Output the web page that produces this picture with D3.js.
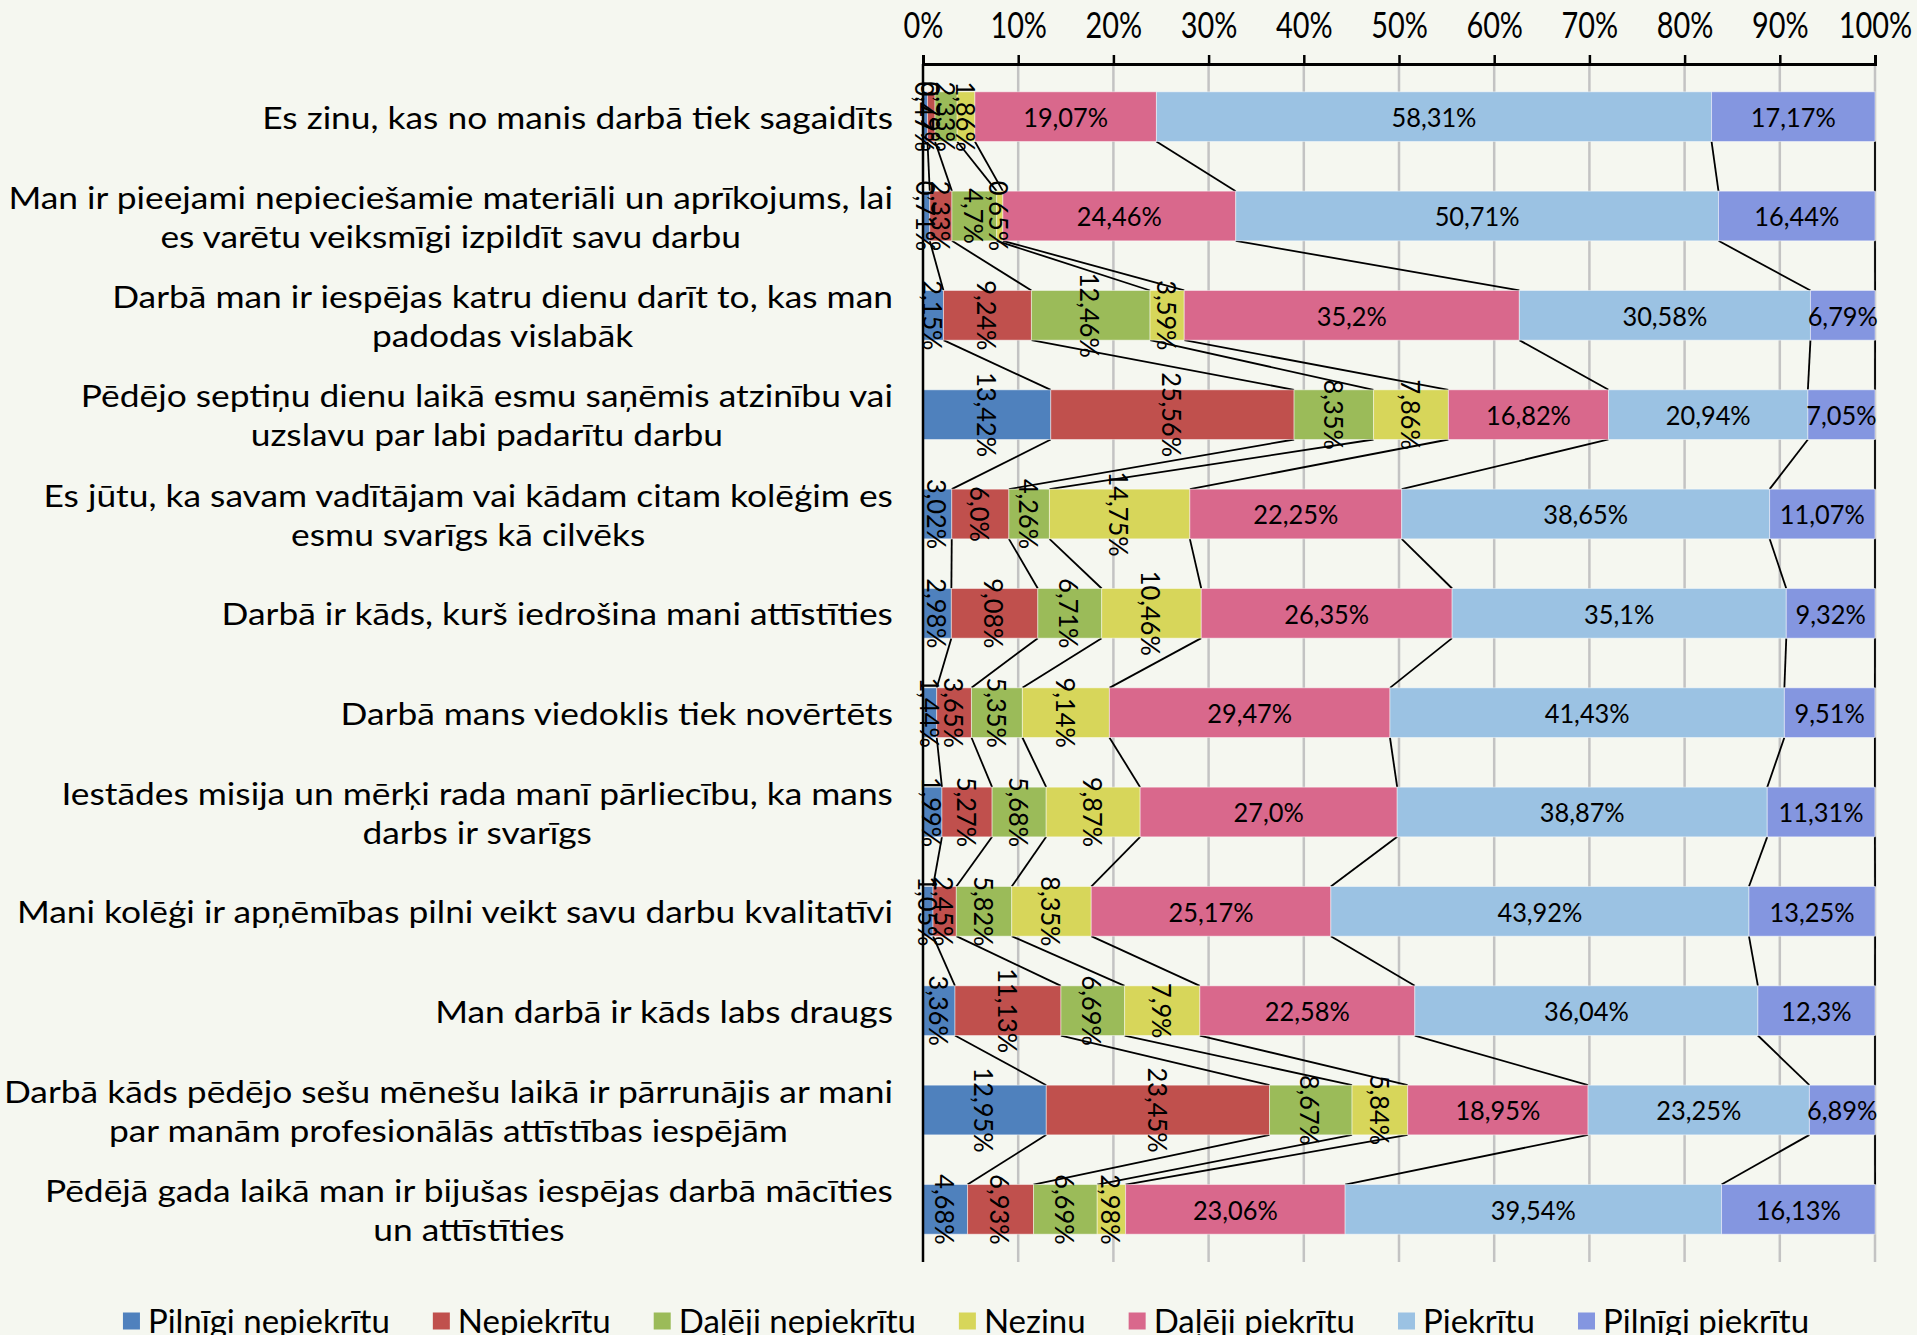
<!DOCTYPE html>
<html lang="lv">
<head>
<meta charset="UTF-8">
<title>Darba vide</title>
<script src="https://d3js.org/d3.v7.min.js"></script>
<style>
  body { margin: 0; background: #f5f7f0; overflow: hidden; }
  svg { display: block; }
  .cat { font-family: Lato, sans-serif; font-size: 31px; fill: #000; }
  .num { font-family: Lato, sans-serif; font-size: 27px; fill: #000; }
  .tick text { font-family: Lato, sans-serif; font-size: 37px; fill: #000; }
  .legend text { font-family: Lato, sans-serif; font-size: 33px; fill: #000; }
</style>
</head>
<body>
<svg id="chart" width="1917" height="1335"></svg>
<script>
// categories (survey statements), "\n" marks a line break
const categories = [
  "Es zinu, kas no manis darbā tiek sagaidīts",
  "Man ir pieejami nepieciešamie materiāli un aprīkojums, lai\nes varētu veiksmīgi izpildīt savu darbu",
  "Darbā man ir iespējas katru dienu darīt to, kas man\npadodas vislabāk",
  "Pēdējo septiņu dienu laikā esmu saņēmis atzinību vai\nuzslavu par labi padarītu darbu",
  "Es jūtu, ka savam vadītājam vai kādam citam kolēģim es\nesmu svarīgs kā cilvēks",
  "Darbā ir kāds, kurš iedrošina mani attīstīties",
  "Darbā mans viedoklis tiek novērtēts",
  "Iestādes misija un mērķi rada manī pārliecību, ka mans\ndarbs ir svarīgs",
  "Mani kolēģi ir apņēmības pilni veikt savu darbu kvalitatīvi",
  "Man darbā ir kāds labs draugs",
  "Darbā kāds pēdējo sešu mēnešu laikā ir pārrunājis ar mani\npar manām profesionālās attīstības iespējām",
  "Pēdējā gada laikā man ir bijušas iespējas darbā mācīties\nun attīstīties"
];

const seriesNames = ["Pilnīgi nepiekrītu", "Nepiekrītu", "Daļēji nepiekrītu", "Nezinu",
  "Daļēji piekrītu", "Piekrītu", "Pilnīgi piekrītu"];
const seriesColors = ["#4f81bd", "#c0504d", "#9bbb59", "#d7d65a", "#d9688c", "#9bc2e3", "#8496e0"];

// percentages per series, one value per category
const pilnigiNepiekritu = [0.47, 0.71, 2.15, 13.42, 3.02, 2.98, 1.44, 1.99, 1.05, 3.36, 12.95, 4.68];
const nepiekritu        = [0.79, 2.33, 9.24, 25.56, 6.0, 9.08, 3.65, 5.27, 2.45, 11.13, 23.45, 6.93];
const dalejiNepiekritu  = [2.33, 4.7, 12.46, 8.35, 4.26, 6.71, 5.35, 5.68, 5.82, 6.69, 8.67, 6.69];
const nezinu            = [1.86, 0.65, 3.59, 7.86, 14.75, 10.46, 9.14, 9.87, 8.35, 7.9, 5.84, 2.98];
const dalejiPiekritu    = [19.07, 24.46, 35.2, 16.82, 22.25, 26.35, 29.47, 27.0, 25.17, 22.58, 18.95, 23.06];
const piekritu          = [58.31, 50.71, 30.58, 20.94, 38.65, 35.1, 41.43, 38.87, 43.92, 36.04, 23.25, 39.54];
const pilnigiPiekritu   = [17.17, 16.44, 6.79, 7.05, 11.07, 9.32, 9.51, 11.31, 13.25, 12.3, 6.89, 16.13];

const tickValues = [0, 10, 20, 30, 40, 50, 60, 70, 80, 90, 100];

const seriesValues = [pilnigiNepiekritu, nepiekritu, dalejiNepiekritu, nezinu,
  dalejiPiekritu, piekritu, pilnigiPiekritu];

// table for d3.stack
const table = categories.map((c, i) => {
  const row = { cat: c };
  seriesNames.forEach((s, k) => row[s] = seriesValues[k][i]);
  return row;
});

const svg = d3.select("#chart");
const plotLeft = 923, plotRight = 1875, plotTop = 64, plotBottom = 1262;

const x = d3.scaleLinear().domain([0, 100]).range([plotLeft, plotRight]);
const y = d3.scaleBand().domain(categories).range([plotTop, plotBottom])
  .paddingInner(0.5).paddingOuter(0.28);

const stacked = d3.stack().keys(seriesNames)(table);

function fmt(v) {
  const s = Math.abs(v * 10 - Math.round(v * 10)) < 1e-9 ? v.toFixed(1) : v.toFixed(2);
  return s.replace(".", ",") + "%";
}

// gridlines
svg.append("g")
  .selectAll("line")
  .data(tickValues.filter(d => d > 0))
  .join("line")
  .attr("x1", d => x(d)).attr("x2", d => x(d))
  .attr("y1", plotTop).attr("y2", plotBottom)
  .attr("stroke", "#c3c3c3").attr("stroke-width", 2.5);

// series lines between neighbouring bars
const bw = y.bandwidth();
const seriesLines = [];
stacked.forEach(layer => {
  for (let i = 0; i < categories.length - 1; i++) {
    seriesLines.push({
      x1: x(layer[i][1]), y1: y(categories[i]) + bw,
      x2: x(layer[i + 1][1]), y2: y(categories[i + 1])
    });
  }
});
svg.append("g")
  .selectAll("line")
  .data(seriesLines)
  .join("line")
  .attr("x1", d => d.x1).attr("y1", d => d.y1)
  .attr("x2", d => d.x2).attr("y2", d => d.y2)
  .attr("stroke", "#000").attr("stroke-width", 1.8);

// bars
svg.append("g")
  .selectAll("g")
  .data(stacked)
  .join("g")
  .attr("fill", (d, k) => seriesColors[k])
  .selectAll("rect")
  .data(d => d)
  .join("rect")
  .attr("x", d => x(d[0]))
  .attr("y", d => y(d.data.cat))
  .attr("width", d => x(d[1]) - x(d[0]))
  .attr("height", bw)
  .attr("stroke", "rgba(255,255,255,0.45)")
  .attr("stroke-width", 1);

// data labels: first four series rotated, rest horizontal
const numSquash = 0.94;
stacked.forEach((layer, k) => {
  svg.append("g")
    .selectAll("text")
    .data(layer)
    .join("text")
    .attr("class", "num")
    .attr("text-anchor", "middle")
    .attr("dominant-baseline", "central")
    .attr("transform", d => {
      const cx = (x(d[0]) + x(d[1])) / 2;
      const cy = y(d.data.cat) + bw / 2;
      return k < 4
        ? `translate(${cx},${cy}) rotate(90) scale(${numSquash},1)`
        : `translate(${cx},${cy}) scale(${numSquash},1)`;
    })
    .text(d => fmt(d[1] - d[0]));
});

// vertical axis line at 0%
svg.append("line")
  .attr("x1", plotLeft).attr("x2", plotLeft)
  .attr("y1", plotTop).attr("y2", plotBottom)
  .attr("stroke", "#000").attr("stroke-width", 2.5);

// top axis
const axis = svg.append("g")
  .attr("transform", `translate(0,${plotTop})`)
  .call(d3.axisTop(x).tickValues(tickValues).tickFormat(d => d + "%").tickSize(9).tickPadding(17));
axis.select(".domain").attr("stroke", "#000").attr("stroke-width", 3);
axis.selectAll(".tick line").attr("stroke", "#000").attr("stroke-width", 2.5);
axis.selectAll(".tick text").attr("transform", "scale(0.78,1)");

// category labels: block right-aligned, lines centred within block
const catLabelRight = 893, lineGap = 39, catStretch = 1.14;
categories.forEach(c => {
  const lines = c.split("\n");
  const g = svg.append("g");
  const cy = y(c) + bw / 2;
  const texts = lines.map(ln => g.append("text")
    .attr("class", "cat")
    .attr("text-anchor", "middle")
    .attr("dominant-baseline", "central")
    .text(ln));
  const maxW = d3.max(texts, t => t.node().getComputedTextLength()) * catStretch;
  texts.forEach((t, j) => {
    const ly = cy + (j - (lines.length - 1) / 2) * lineGap;
    t.attr("transform", `translate(${catLabelRight - maxW / 2},${ly}) scale(${catStretch},1)`);
  });
});

// legend
const legend = svg.append("g").attr("class", "legend");
const legendY = 1321, sq = 17, sqGap = 8, itemGap = 43;
let lx = 0;
seriesNames.forEach((s, k) => {
  const it = legend.append("g");
  it.append("rect").attr("x", 0).attr("y", legendY - sq / 2).attr("width", sq).attr("height", sq)
    .attr("fill", seriesColors[k]);
  const t = it.append("text").attr("x", sq + sqGap).attr("y", legendY + 12).text(s);
  const w = sq + sqGap + t.node().getComputedTextLength();
  it.attr("transform", `translate(${lx},0)`);
  lx += w + itemGap;
});
const legendWidth = lx - itemGap;
legend.attr("transform", `translate(${966 - legendWidth / 2},0)`);
</script>
</body>
</html>
